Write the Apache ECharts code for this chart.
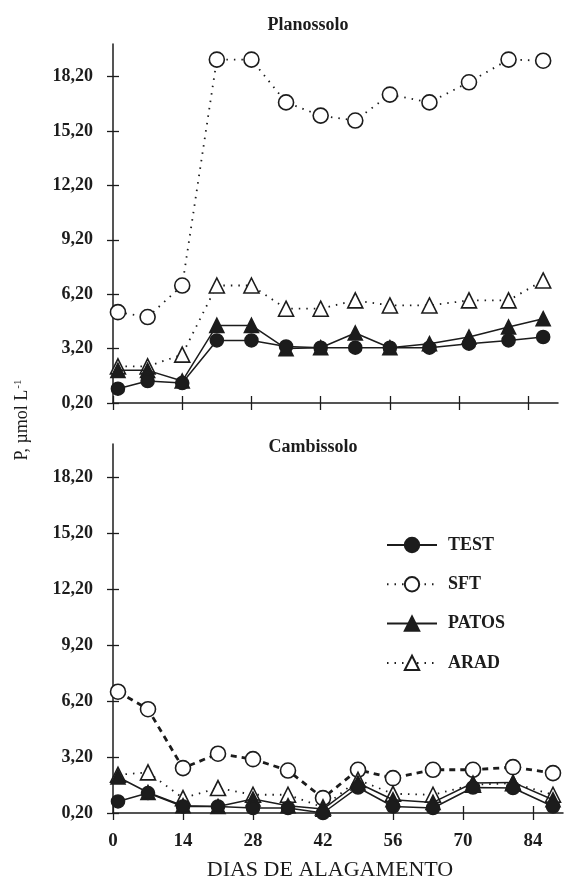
<!DOCTYPE html>
<html>
<head>
<meta charset="utf-8">
<script src="https://cdn.jsdelivr.net/npm/echarts@6/dist/echarts.min.js"></script>
<style>html,body{margin:0;padding:0;background:#fff;}#c{width:564px;height:883px;}</style>
</head>
<body>
<div id="c"></div>
<script>
// ---- data ----
const daysPlan = [1, 7, 14, 21, 28, 35, 42, 49, 56, 64, 72, 80, 87];
const daysCamb = [1, 7, 14, 21, 28, 35, 42, 49, 56, 64, 72, 80, 88];
const planTEST  = [0.99, 1.41, 1.30, 3.65, 3.65, 3.32, 3.25, 3.25, 3.25, 3.25, 3.47, 3.65, 3.84];
const planSFT   = [5.21, 4.94, 6.68, 19.14, 19.14, 16.78, 16.05, 15.78, 17.21, 16.78, 17.89, 19.14, 19.08];
const planPATOS = [2.00, 2.00, 1.41, 4.48, 4.48, 3.20, 3.25, 4.06, 3.25, 3.47, 3.84, 4.39, 4.85];
const planARAD  = [2.22, 2.22, 2.87, 6.68, 6.68, 5.40, 5.40, 5.86, 5.58, 5.58, 5.86, 5.86, 6.96];
const cambTEST  = [0.82, 1.27, 0.55, 0.55, 0.47, 0.47, 0.20, 1.57, 0.55, 0.47, 1.57, 1.54, 0.55];
const cambSFT   = [6.71, 5.77, 2.61, 3.38, 3.09, 2.48, 1.00, 2.52, 2.07, 2.52, 2.52, 2.66, 2.34];
const cambPATOS = [2.13, 1.30, 0.59, 0.55, 0.95, 0.59, 0.41, 1.81, 0.91, 0.77, 1.81, 1.84, 0.91];
const cambARAD  = [2.25, 2.38, 1.00, 1.54, 1.18, 1.18, 0.50, 1.98, 1.23, 1.18, 1.72, 1.80, 1.18];
const yTicks = [0.2, 3.2, 6.2, 9.2, 12.2, 15.2, 18.2];
const xTicks = [0, 14, 28, 42, 56, 70, 84];
const seriesNames = ['TEST', 'SFT', 'PATOS', 'ARAD'];
const panelTitles = ['Planossolo', 'Cambissolo'];

const INK = '#1c1c1c';
const SERIF = '"Liberation Serif", "DejaVu Serif", serif';
const fmtY = v => v.toFixed(2).replace('.', ',');
const pair = (xs, ys) => xs.map((d, i) => [d, ys[i]]);

const grids = [
  {left: 113, top: 44, width: 445, height: 359},
  {left: 113, top: 444, width: 450, height: 369}
];

function xAxes(gi, labels) {
  const base = {
    type: 'value', gridIndex: gi, min: 0, max: 90, position: 'bottom',
    splitLine: {show: false}
  };
  return [
    Object.assign({}, base, {
      axisLine: {show: true, lineStyle: {color: INK, width: 1.5}},
      axisTick: {show: true, inside: false, length: 7, customValues: xTicks, lineStyle: {color: INK, width: 1.3}},
      axisLabel: {show: labels, customValues: xTicks, color: INK, fontFamily: SERIF, fontWeight: 'bold', fontSize: 19, margin: 19}
    }),
    Object.assign({}, base, {
      axisLine: {show: false},
      axisTick: {show: true, inside: true, length: 7, customValues: xTicks, lineStyle: {color: INK, width: 1.3}},
      axisLabel: {show: false}
    })
  ];
}
function yAxes(gi) {
  const base = {
    type: 'value', gridIndex: gi, min: 0.2, max: 20, position: 'left',
    splitLine: {show: false}
  };
  return [
    Object.assign({}, base, {
      axisLine: {show: true, lineStyle: {color: INK, width: 1.5}},
      axisTick: {show: true, inside: false, length: 6, customValues: yTicks, lineStyle: {color: INK, width: 1.3}},
      axisLabel: {show: true, customValues: yTicks, formatter: fmtY, color: INK, fontFamily: SERIF, fontWeight: 'bold', fontSize: 18, margin: 20}
    }),
    Object.assign({}, base, {
      axisLine: {show: false},
      axisTick: {show: true, inside: true, length: 6, customValues: yTicks, lineStyle: {color: INK, width: 1.3}},
      axisLabel: {show: false}
    })
  ];
}

const styles = {
  TEST:  {symbol: 'circle', symbolSize: 13, fill: INK, line: {color: INK, width: 1.5, type: 'solid'}},
  SFT:   {symbol: 'circle', symbolSize: 15, fill: '#fff', line: {color: INK, width: 1.8, type: [1.5, 6]}},
  PATOS: {symbol: 'triangle', symbolSize: 14, fill: INK, line: {color: INK, width: 1.5, type: 'solid'}},
  ARAD:  {symbol: 'triangle', symbolSize: 15, fill: '#fff', line: {color: INK, width: 1.8, type: [1.5, 6]}}
};

function mk(name, gi, xs, ys, lineOverride) {
  const s = styles[name];
  return {
    name: name, type: 'line', xAxisIndex: gi * 2, yAxisIndex: gi * 2,
    data: pair(xs, ys), symbol: s.symbol, symbolSize: s.symbolSize,
    showSymbol: true, animation: false,
    itemStyle: {color: s.fill, borderColor: INK, borderWidth: 1.6, opacity: 1},
    lineStyle: Object.assign({}, s.line, lineOverride || {}),
    z: (name === 'TEST' || name === 'PATOS') ? 4 : 3,
    emphasis: {disabled: true}
  };
}

const series = [
  mk('SFT', 0, daysPlan, planSFT),
  mk('ARAD', 0, daysPlan, planARAD),
  mk('PATOS', 0, daysPlan, planPATOS),
  mk('TEST', 0, daysPlan, planTEST),
  mk('SFT', 1, daysCamb, cambSFT, {width: 2.8, type: [6, 5]}),
  mk('ARAD', 1, daysCamb, cambARAD),
  mk('PATOS', 1, daysCamb, cambPATOS),
  mk('TEST', 1, daysCamb, cambTEST)
];

const chart = echarts.init(document.getElementById('c'), null, {renderer: 'canvas'});
chart.setOption({
  backgroundColor: '#fff',
  animation: false,
  grid: grids,
  xAxis: [].concat(xAxes(0, false), xAxes(1, true)),
  yAxis: [].concat(yAxes(0), yAxes(1)),
  legend: {
    data: seriesNames,
    orient: 'vertical', left: 381, top: 531,
    itemWidth: 50, itemHeight: 18, itemGap: 21.3,
    textStyle: {color: INK, fontFamily: SERIF, fontWeight: 'bold', fontSize: 18, padding: [0, 0, 0, 6]},
    selectedMode: false
  },
  graphic: [
    {type: 'text', x: 308, y: 25, style: {text: panelTitles[0], font: 'bold 18px ' + SERIF, fill: INK, align: 'center', verticalAlign: 'middle'}},
    {type: 'text', x: 313, y: 447, style: {text: panelTitles[1], font: 'bold 18px ' + SERIF, fill: INK, align: 'center', verticalAlign: 'middle'}},
    {type: 'text', x: 22, y: 420, rotation: Math.PI / 2,
      style: {text: '{a|P, µmol L}{s|-1}', align: 'center', verticalAlign: 'middle', fill: INK,
        rich: {a: {fontFamily: SERIF, fontSize: 18, fill: INK}, s: {fontFamily: SERIF, fontSize: 11, fill: INK, verticalAlign: 'top', padding: [0, 0, 8, 1]}}}},
    {type: 'text', x: 330, y: 870, style: {text: 'DIAS DE ALAGAMENTO', font: '22px ' + SERIF, fill: INK, align: 'center', verticalAlign: 'middle'}}
  ],
  series: series
});
</script>
</body>
</html>
